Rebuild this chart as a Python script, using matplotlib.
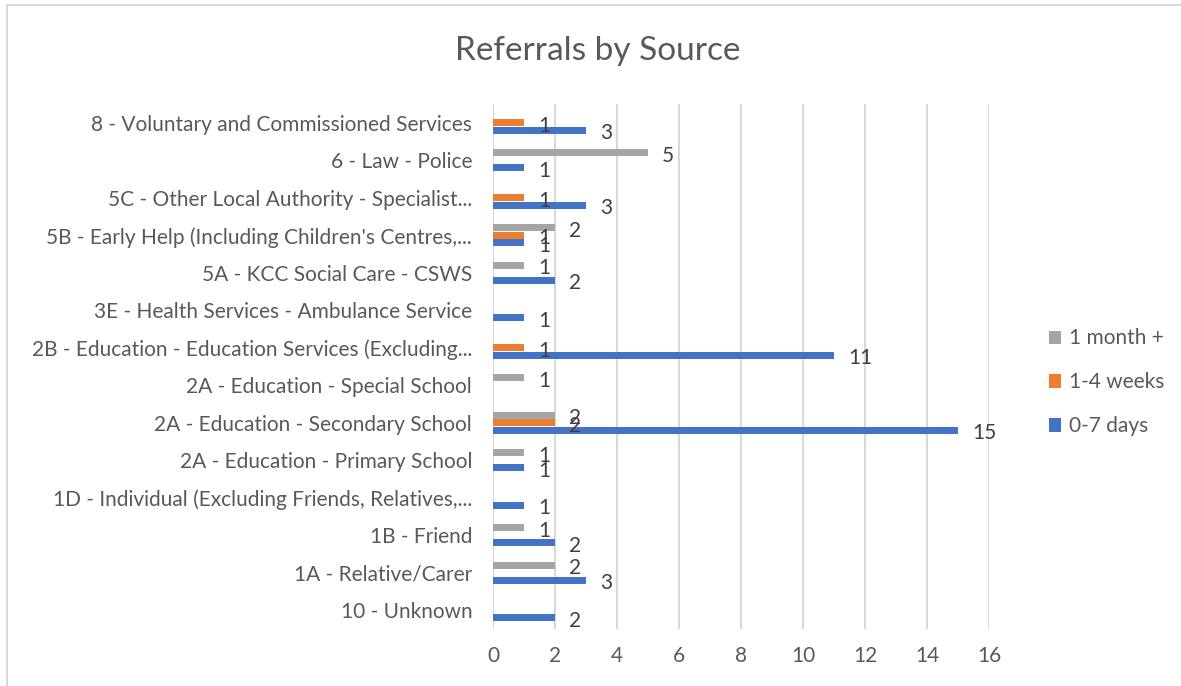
import numpy as np
import matplotlib.pyplot as plt
from matplotlib.patches import Rectangle

plt.rcParams['font.family'] = ['Lato', 'DejaVu Sans']

# Категории снизу вверх, как на оси Excel
categories = ["10 - Unknown",
              "1A - Relative/Carer",
              "1B - Friend",
              "1D - Individual (Excluding Friends, Relatives,...",
              "2A - Education - Primary School",
              "2A - Education - Secondary School",
              "2A - Education - Special School",
              "2B - Education - Education Services (Excluding...",
              "3E - Health Services - Ambulance Service",
              "5A - KCC Social Care - CSWS",
              "5B - Early Help (Including Children's Centres,...",
              "5C - Other Local Authority - Specialist...",
              "6 - Law - Police",
              "8 - Voluntary and Commissioned Services"]

days_0_7 = [2, 3, 2, 1, 1, 15, 0, 11, 1, 2, 1, 3, 1, 3]
weeks_1_4 = [0, 0, 0, 0, 0, 2, 0, 1, 0, 0, 1, 1, 0, 1]
month_1 = [0, 2, 1, 0, 1, 2, 1, 0, 0, 1, 2, 0, 5, 0]

series = [("0-7 days", days_0_7, "#4472C4", -0.2),
          ("1-4 weeks", weeks_1_4, "#ED7D31", 0.0),
          ("1 month +", month_1, "#A5A5A5", 0.2)]

text_col = "#595959"

fig = plt.figure(figsize=(11.81, 6.86), dpi=100)
ax = fig.add_axes([0.4175, 0.083, 0.42, 0.7654])

y = np.arange(len(categories))
handles = []
for name, vals, col, off in series:
    b = ax.barh(y + off, vals, height=0.19, color=col, label=name, zorder=3)
    handles.append(b)
    for yi, v in zip(y, vals):
        if v:
            ax.annotate(str(v), (v, yi + off), xytext=(10, -2), textcoords='offset points',
                        ha='left', va='center', fontsize=15, color="#404040", zorder=4)

ax.set_xlim(0, 16)
ax.set_ylim(-0.5, len(categories) - 0.5)
ax.set_xticks(range(0, 17, 2))
ax.set_yticks(y)
ax.set_yticklabels(categories)
ax.tick_params(length=0, labelsize=15, colors=text_col)
ax.tick_params(axis='y', pad=15)
ax.tick_params(axis='x', pad=12)
ax.grid(axis='x', color="#d9d9d9", linewidth=1.5, zorder=0)
for s in ax.spines.values():
    s.set_visible(False)

fig.text(0.5065, 0.925, "Referrals by Source", ha='center', va='center',
         fontsize=24, color=text_col)

leg = fig.legend(handles[::-1], [h.get_label() for h in handles[::-1]],
                 loc='center left', bbox_to_anchor=(0.872, 0.4425), frameon=False,
                 fontsize=15, labelcolor=text_col, labelspacing=1.15,
                 handlelength=0.6, handleheight=0.6, handletextpad=0.4)

# рамка диаграммы (правый и нижний край за пределами картинки)
fig.patches.append(Rectangle((7 / 1181, -0.1), 1.2, 1.1 - 4.5 / 686, transform=fig.transFigure,
                             fill=False, edgecolor="#d9d9d9", linewidth=1.5))

fig.savefig("out.png", dpi=100)
